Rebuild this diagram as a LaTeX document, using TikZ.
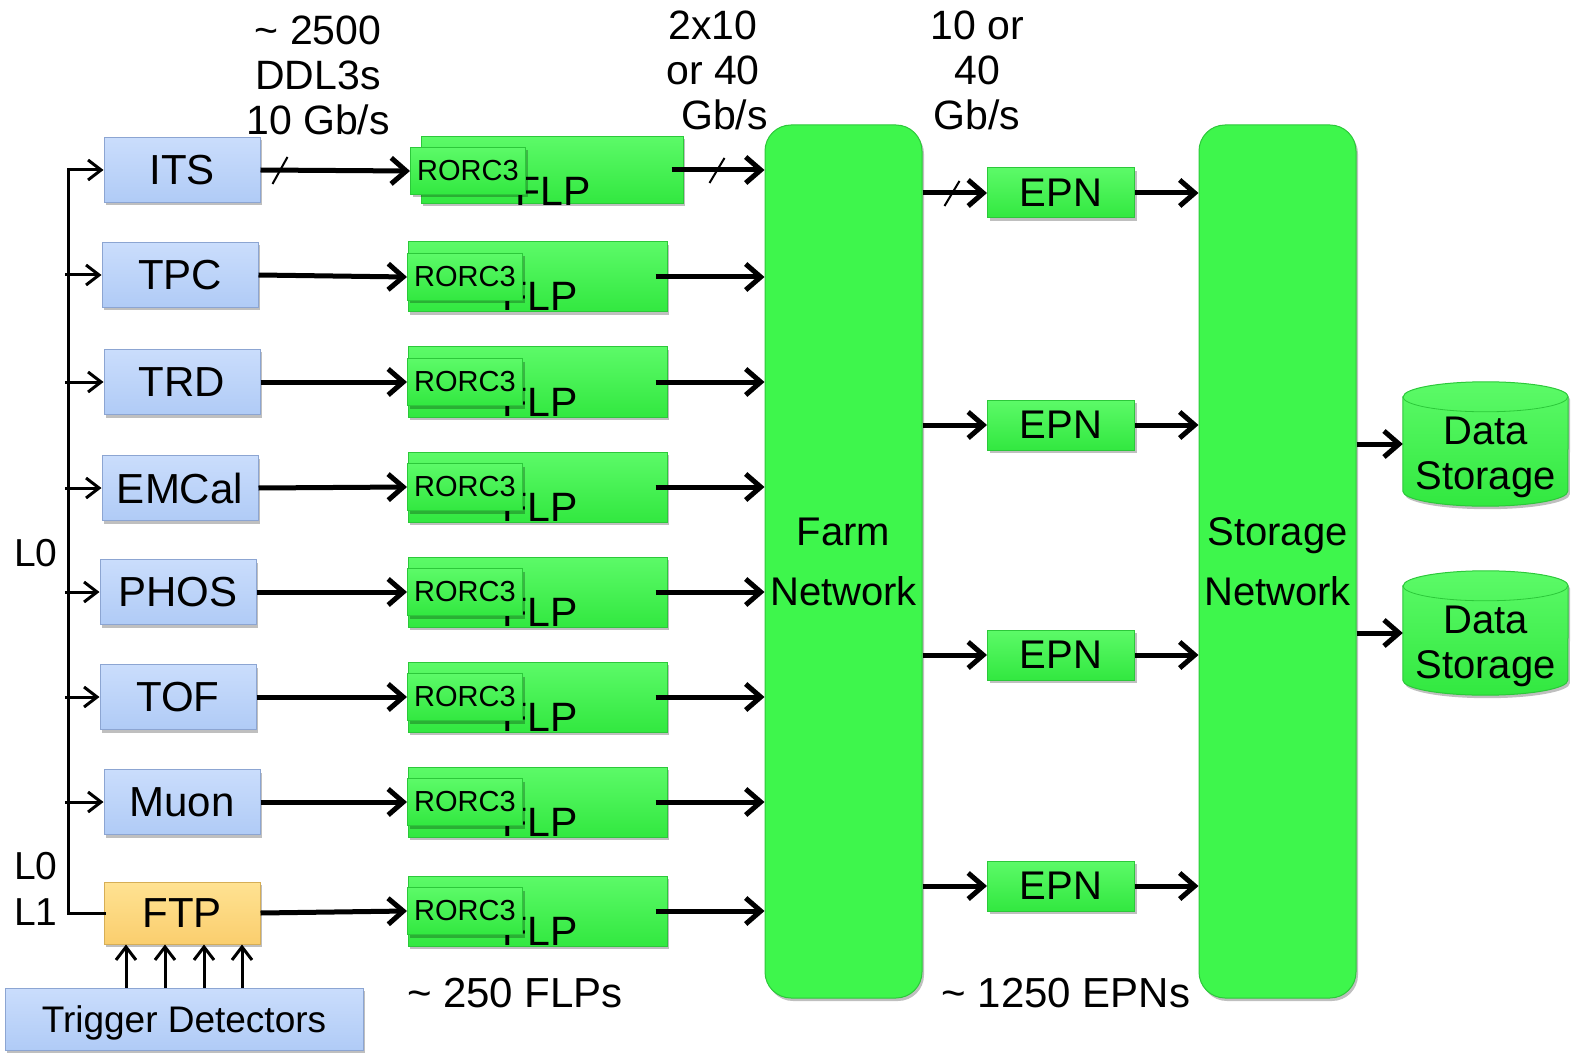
\documentclass[tikz,border=0pt]{standalone}
\usepackage{fontspec}
\setmainfont{Liberation Sans}
\usetikzlibrary{arrows.meta,shadows,calc}
\definecolor{gfill}{RGB}{62,246,76}
\definecolor{gtop}{RGB}{92,250,104}
\definecolor{gbot}{RGB}{50,232,64}
\definecolor{gline}{RGB}{44,200,58}
\definecolor{btop}{RGB}{202,221,252}
\definecolor{bbot}{RGB}{176,203,246}
\definecolor{bline}{RGB}{140,165,210}
\definecolor{otop}{RGB}{255,226,146}
\definecolor{obot}{RGB}{250,206,110}
\definecolor{oline}{RGB}{214,174,86}
\newcommand{\fs}[1]{\fontsize{#1}{#1}\selectfont}
\begin{document}
\begin{tikzpicture}[x=1pt,y=-1pt,
  shd/.style={drop shadow={shadow xshift=2pt,shadow yshift=-3pt,opacity=0.25,fill=black}},
  det/.style={draw=bline,line width=1pt,top color=btop,bottom color=bbot,minimum width=156pt,minimum height=65pt,inner sep=0pt,text depth=0pt,font=\fs{42},shd},
  ftpbox/.style={det,draw=oline,top color=otop,bottom color=obot,minimum height=62pt},
  flpbox/.style={draw=gline,line width=1pt,top color=gtop,bottom color=gbot,minimum width=259pt,minimum height=70pt,inner sep=0pt,shd},
  rorcbox/.style={draw=gline,line width=1pt,top color=gtop,bottom color=gbot,minimum width=115pt,minimum height=47pt,inner sep=0pt,font=\fs{29},shd},
  epnbox/.style={draw=gline,line width=1pt,top color=gtop,bottom color=gbot,minimum width=147pt,minimum height=50pt,inner sep=0pt,font=\fs{40},shd},
  netbox/.style={draw=gline,line width=1pt,fill=gfill,rounded corners=26pt,minimum width=157pt,minimum height=873pt,inner sep=0pt,align=center,font=\fontsize{40}{60}\selectfont,shd},
  flptext/.style={font=\fs{41},anchor=base,inner sep=0pt},
  lab/.style={font=\fontsize{41}{45}\selectfont,align=center,inner sep=0pt},
  arr/.style={line width=5pt,-{Straight Barb[length=15pt,width=26pt]}},
  sarr/.style={line width=3pt,-{Straight Barb[length=13pt,width=20pt]}},
  bus/.style={line width=3pt},
  slash/.style={line width=2pt},
  dsbox/.style={minimum width=165pt,minimum height=124pt,inner sep=0pt},
  cylfill/.style={draw=gline,line width=1pt,top color=gtop,bottom color=gbot,shd},
  dstext/.style={font=\fontsize{40}{45}\selectfont,align=center,inner sep=0pt}
]
\useasboundingbox (0,0) rectangle (1576,1056);

% networks
\node[netbox] (farm) at (843.5,561.5) {Farm\\Network};
\node[netbox] (stor) at (1277.5,561.5) {Storage\\Network};

% detectors
\node[det] (its) at (182,170) {ITS};
\node[det] (tpc) at (180,275) {TPC};
\node[det] (trd) at (182,382) {TRD};
\node[det] (emc) at (180,488) {EMCal};
\node[det] (phos) at (178,592) {PHOS};
\node[det] (tof) at (178,697) {TOF};
\node[det] (muon) at (182,802) {Muon};
\node[ftpbox] (ftp) at (182,913) {FTP};
\node[det,minimum width=358pt,minimum height=62pt,font=\fs{37}] (trig) at (184,1019) {Trigger Detectors};

% FLPs
\node[flpbox,minimum width=262pt,minimum height=67pt] (f1) at (552,170) {};
\node[flptext] at (553,206) {FLP};
\node[rorcbox] (r1) at (468,171) {RORC3};
\foreach \i/\y in {2/277,3/382,4/487,5/592,6/697,7/802,8/911}{
  \node[flpbox] (f\i) at (537.5,\y) {};
  \node[flptext] at (540,\y+34) {FLP};
  \node[rorcbox] (r\i) at (465,\y) {RORC3};
}

% detector -> RORC
\draw[arr] (its.east) -- (r1.west);
\draw[arr] (tpc.east) -- (r2.west);
\draw[arr] (trd.east) -- (r3.west);
\draw[arr] (emc.east) -- (r4.west);
\draw[arr] (phos.east) -- (r5.west);
\draw[arr] (tof.east) -- (r6.west);
\draw[arr] (muon.east) -- (r7.west);
\draw[arr] (ftp.east) -- (r8.west);

% FLP -> farm
\foreach \i in {1,...,8}{
  \draw[arr] ([xshift=-12pt]f\i.east) -- (f\i.east -| farm.west);
}

% EPNs
\node[epnbox] (e1) at (1061,193) {EPN};
\node[epnbox] (e2) at (1061,425) {EPN};
\node[epnbox] (e3) at (1061,655) {EPN};
\node[epnbox] (e4) at (1061,886) {EPN};
\foreach \i in {1,...,4}{
  \draw[arr] (e\i.west -| farm.east) -- (e\i.west);
  \draw[arr] (e\i.east) -- (e\i.east -| stor.west);
}

% data storage
\foreach \i/\y in {1/444,2/633}{
  \node[dsbox] (ds\i) at (1485.5,\y) {};
  \path[cylfill] ([yshift=-15pt]ds\i.north west) -- ([yshift=15pt]ds\i.south west)
     arc[start angle=180,end angle=360,x radius=82.5pt,y radius=15pt]
     -- ([yshift=-15pt]ds\i.north east)
     arc[start angle=0,end angle=180,x radius=82.5pt,y radius=15pt] -- cycle;
  \draw[gline,line width=0.8pt] ([yshift=-15pt]ds\i.north west)
     arc[start angle=180,end angle=360,x radius=82.5pt,y radius=15pt];
  \node[dstext] at ([yshift=-13pt]ds\i.center) {Data\\Storage};
  \draw[arr] (ds\i.west -| stor.east) -- (ds\i.west);
}

% trigger bus
\coordinate (bustop) at (68,170);
\draw[bus] ([xshift=1.5pt]bustop) -- (bustop) |- ([xshift=2pt]ftp.west);
\draw[sarr] (bustop) -- (its.west);
\foreach \n in {tpc,trd,emc,phos,tof,muon}{
  \draw[sarr] ([xshift=-3pt]bustop |- \n.west) -- (\n.west);
}
\foreach \dx in {-56,-17,22,60}{
  \draw[sarr] ([xshift=\dx pt]ftp.south |- trig.north) -- ([xshift=\dx pt]ftp.south);
}

% slashes
\draw[slash] ($(its.east)+(12,14)$) -- ++(15,-27);
\draw[slash] ($(f1.east)+(26,13)$) -- ++(15,-25);
\draw[slash] ($(e1.west -| farm.east)+(22,13)$) -- ++(15,-25);

% labels
\node[lab] (lbl1) at (318,75) {\textasciitilde\ 2500\\DDL3s\\10 Gb/s};
\node[lab] (lbl2) at (713,70) {2x10\\or 40\\\ \ Gb/s};
\node[lab] (lbl3) at (977,70) {10 or\\40\\Gb/s};
\node[lab,font=\fs{42}] (lbl4) at (515,993) {\textasciitilde\ 250 FLPs};
\node[lab,font=\fs{42}] (lbl5) at (1066,993) {\textasciitilde\ 1250 EPNs};
\node[lab,font=\fs{39}] (l0a) at (36,553) {L0};
\node[lab,font=\fontsize{39}{46}\selectfont] (l0b) at (36,889) {L0\\L1};
\end{tikzpicture}
\end{document}
